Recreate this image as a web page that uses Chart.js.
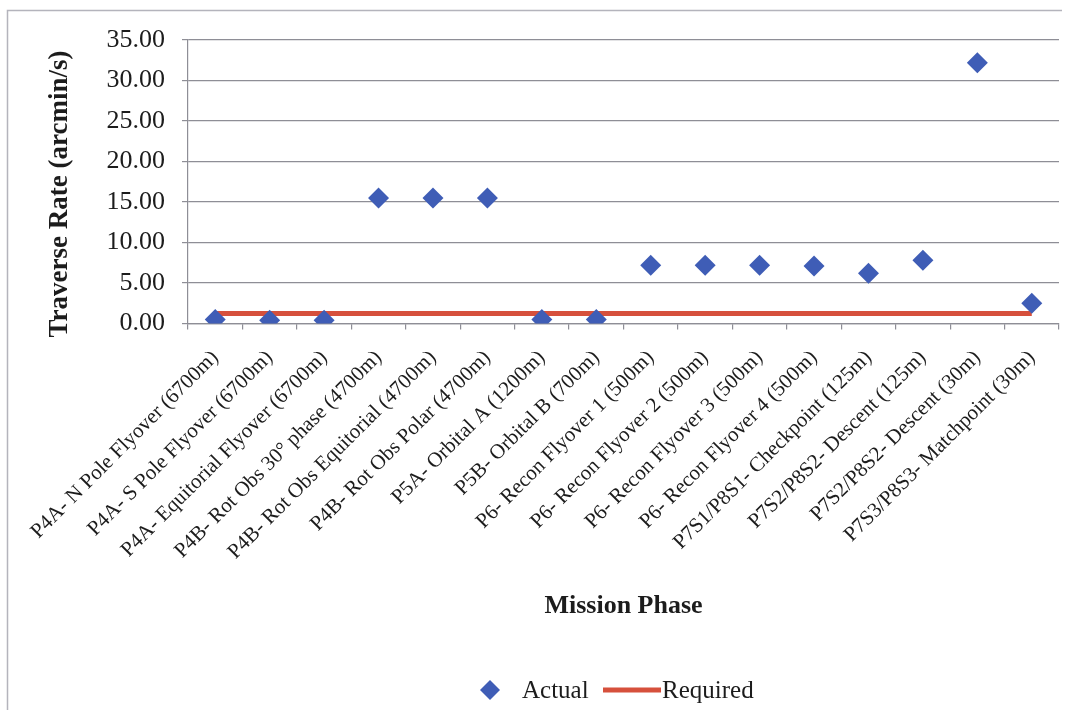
<!DOCTYPE html>
<html>
<head>
<meta charset="utf-8">
<title>Traverse Rate by Mission Phase</title>
<script src="https://cdn.jsdelivr.net/npm/chart.js@4/dist/chart.umd.min.js"></script>
<style>
  html, body { margin: 0; padding: 0; background: #ffffff; }
  #wrap { position: relative; width: 1075px; height: 710px; }
  canvas { display: block; }
</style>
</head>
<body>
<div id="wrap"><canvas id="chart" width="1075" height="710"></canvas></div>
<script>
// Mission phases along the horizontal axis
const phases = [
  'P4A- N Pole Flyover (6700m)',
  'P4A- S Pole Flyover (6700m)',
  'P4A- Equitorial Flyover (6700m)',
  'P4B- Rot Obs 30\u00b0 phase (4700m)',
  'P4B- Rot Obs Equitorial (4700m)',
  'P4B- Rot Obs Polar (4700m)',
  'P5A- Orbital A (1200m)',
  'P5B- Orbital B (700m)',
  'P6- Recon Flyover 1 (500m)',
  'P6- Recon Flyover 2 (500m)',
  'P6- Recon Flyover 3 (500m)',
  'P6- Recon Flyover 4 (500m)',
  'P7S1/P8S1- Checkpoint (125m)',
  'P7S2/P8S2- Descent (125m)',
  'P7S2/P8S2- Descent (30m)',
  'P7S3/P8S3- Matchpoint (30m)'
];

// Traverse rate achieved in each phase (arcmin/s)
const actualRate = [0.5, 0.4, 0.4, 15.5, 15.5, 15.5, 0.5, 0.5, 7.2, 7.2, 7.2, 7.1, 6.2, 7.8, 32.2, 2.5];

// Required traverse rate (arcmin/s)
const requiredRate = [1.25, 1.25, 1.25, 1.25, 1.25, 1.25, 1.25, 1.25, 1.25, 1.25, 1.25, 1.25, 1.25, 1.25, 1.25, 1.25];

// Vertical axis range
const yMin = 0;
const yMax = 35;
const yStep = 5;

const serif = "'Liberation Serif', 'Times New Roman', serif";
const blue = '#3F5DB6';
const red = '#D6503C';
const gridGray = '#8E8E96';
const textColor = '#1c1c1c';

// Outer frame lines
const framePlugin = {
  id: 'frame',
  beforeDraw(chart) {
    const ctx = chart.ctx;
    ctx.save();
    ctx.strokeStyle = '#b4b4bc';
    ctx.lineWidth = 1.5;
    ctx.beginPath();
    ctx.moveTo(7.5, 710);
    ctx.lineTo(7.5, 10.5);
    ctx.lineTo(1062, 10.5);
    ctx.stroke();
    ctx.restore();
  }
};

// Vertical axis title, set a little below the plot's midpoint
const yTitlePlugin = {
  id: 'yTitle',
  afterDraw(chart) {
    const ctx = chart.ctx;
    ctx.save();
    ctx.translate(60, 194);
    ctx.rotate(-Math.PI / 2);
    ctx.font = 'bold 27px ' + serif;
    ctx.fillStyle = textColor;
    ctx.textAlign = 'center';
    ctx.textBaseline = 'middle';
    ctx.fillText('Traverse Rate (arcmin/s)', 0, 0);
    ctx.restore();
  }
};

// Legend row beneath the axis title
const legendPlugin = {
  id: 'bottomLegend',
  afterDraw(chart) {
    const ctx = chart.ctx;
    const y = 690;
    const actualSet = chart.data.datasets[0];
    const requiredSet = chart.data.datasets[1];
    ctx.save();
    // diamond marker
    ctx.fillStyle = actualSet.pointBackgroundColor;
    ctx.beginPath();
    ctx.moveTo(490 - 10, y);
    ctx.lineTo(490, y - 10);
    ctx.lineTo(490 + 10, y);
    ctx.lineTo(490, y + 10);
    ctx.closePath();
    ctx.fill();
    ctx.font = '25px ' + serif;
    ctx.fillStyle = textColor;
    ctx.textBaseline = 'middle';
    ctx.textAlign = 'left';
    ctx.fillText(actualSet.label, 522, y + 1);
    // line marker
    ctx.strokeStyle = requiredSet.borderColor;
    ctx.lineWidth = requiredSet.borderWidth;
    ctx.beginPath();
    ctx.moveTo(603, y);
    ctx.lineTo(661, y);
    ctx.stroke();
    ctx.fillText(requiredSet.label, 662, y + 1);
    ctx.restore();
  }
};

const chartLeft = 188;
const chartBottom = 323.5;

new Chart(document.getElementById('chart'), {
  type: 'line',
  data: {
    labels: phases,
    datasets: [
      {
        label: 'Actual',
        data: actualRate,
        showLine: false,
        pointStyle: 'rectRot',
        pointRadius: 10.5,
        pointHoverRadius: 10.5,
        pointBackgroundColor: blue,
        pointBorderColor: blue,
        pointBorderWidth: 0
      },
      {
        label: 'Required',
        data: requiredRate,
        borderColor: red,
        backgroundColor: red,
        borderWidth: 5,
        pointRadius: 0,
        pointHoverRadius: 0,
        tension: 0
      }
    ]
  },
  options: {
    responsive: false,
    animation: false,
    events: [],
    layout: { padding: { left: 44, top: 40, right: 16, bottom: 88 } },
    plugins: {
      legend: { display: false },
      tooltip: { enabled: false }
    },
    scales: {
      x: {
        type: 'category',
        offset: true,
        grid: {
          offset: true,
          drawOnChartArea: false,
          drawTicks: true,
          tickLength: 6,
          color: gridGray,
          lineWidth: 1.2
        },
        border: { color: gridGray, width: 1.2 },
        ticks: {
          autoSkip: false,
          minRotation: 45,
          maxRotation: 45,
          padding: 16,
          color: textColor,
          font: { family: serif, size: 21 }
        },
        title: {
          display: true,
          text: 'Mission Phase',
          color: textColor,
          padding: 0,
          font: { family: serif, size: 26, weight: 'bold' }
        },
        afterFit(scale) { scale.height = 622 - chartBottom; }
      },
      y: {
        min: yMin,
        max: yMax,
        ticks: {
          stepSize: yStep,
          padding: 17,
          color: textColor,
          font: { family: serif, size: 26 },
          callback: (v) => Number(v).toFixed(2)
        },
        grid: {
          color: gridGray,
          lineWidth: 1.2,
          tickLength: 6
        },
        border: { color: gridGray, width: 1.2 },
        title: { display: false },
        afterFit(scale) { scale.width = chartLeft - 44; }
      }
    }
  },
  plugins: [framePlugin, yTitlePlugin, legendPlugin]
});
</script>
</body>
</html>
